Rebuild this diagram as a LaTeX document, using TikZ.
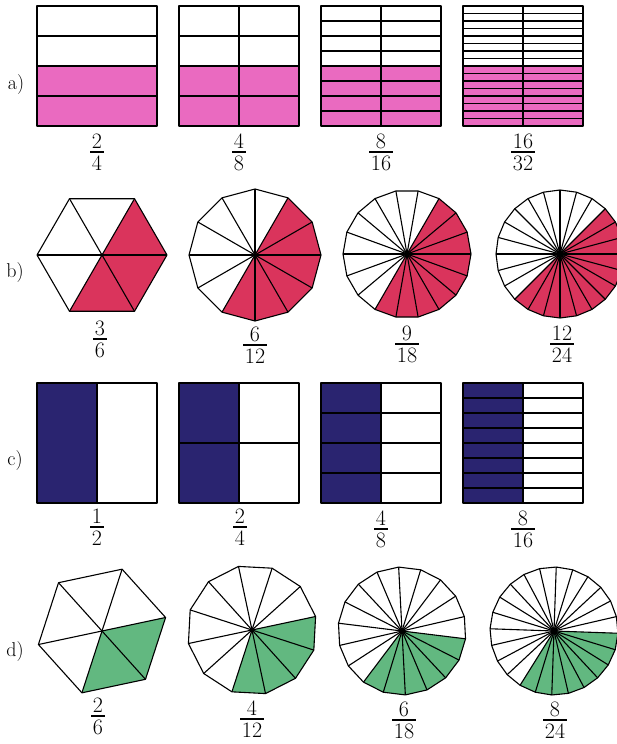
\documentclass[tikz,border=0pt]{standalone}
\usepackage{tikz}
\definecolor{pinkc}{RGB}{234,106,192}
\definecolor{redc}{RGB}{218,52,92}
\definecolor{navyc}{RGB}{42,36,112}
\definecolor{greenc}{RGB}{98,184,128}
\newcommand\gridbox[4]{% x y cols rows
  \draw[ln] (#1,#2) rectangle ++(120,120);
  \ifnum#3>1 \draw[ln] (#1+60,#2) -- ++(0,120);\fi
  \ifnum#4>1 \foreach \i in {2,...,#4}{\draw[ln] (#1,{#2+(\i-1)*120/#4}) -- ++(120,0);}\fi
}
\newcommand\pgon[8]{% name, (x,y), r, n, offset, fill start, count, colour
  \coordinate (#1) at #2;
  \fill[#8] (#1) \foreach \k [evaluate=\k as \aa using {-(#6+\k*360/#4)}] in {0,...,#7}{ -- ([shift={(#1)}]\aa:#3) } -- cycle;
  \foreach \k [evaluate=\k as \aa using {-(#5+\k*360/#4)}] in {1,...,#4}{\draw[ln] (#1) -- ([shift={(#1)}]\aa:#3);}
  \draw[ln] ([shift={(#1)}]-#5:#3) \foreach \k [evaluate=\k as \aa using {-(#5+\k*360/#4)}] in {1,...,#4}{ -- ([shift={(#1)}]\aa:#3)} -- cycle;
}
\newcommand\fr[5]{% name x ybar num den
  \node[dig,anchor=base] (#1n) at (#2,#3-4) {#4};
  \node[dig,anchor=north] (#1d) at (#2,#3+4) {#5};
  \draw[bar,shorten <=-1.5pt,shorten >=-1.5pt] (#1d.west |- #2,#3) -- (#1d.east |- #2,#3);
}
\begin{document}
\begin{tikzpicture}[x=1pt,y=-1pt,
  ln/.style={line width=1.1pt,black,line join=round},
  dig/.style={inner sep=0pt,font=\fontsize{22}{26}\selectfont},
  lab/.style={inner sep=0pt,font=\fontsize{20}{24}\selectfont},
  bar/.style={line width=1.3pt}]
\useasboundingbox (0,0) rectangle (617,744);
\clip (0,0) rectangle (617,744);
\fill[white] (0,0) rectangle (617,744);

% row a
\fill[pinkc] (37,66) rectangle (157,126);
\fill[pinkc] (179,66) rectangle (299,126);
\fill[pinkc] (321,66) rectangle (441,126);
\fill[pinkc] (463,66) rectangle (583,126);
\gridbox{37}{6}{1}{4}
\gridbox{179}{6}{2}{4}
\gridbox{321}{6}{2}{8}
\gridbox{463}{6}{2}{16}
\node[lab] (la) at (16,85) {a)};
\fr{fa1}{97}{152}{2}{4}
\fr{fa2}{239}{152}{4}{8}
\fr{fa3}{381}{152}{8}{16}
\fr{fa4}{523}{152}{16}{32}

% row b
\pgon{b1}{(102,255)}{65}{6}{0}{-120}{3}{redc}
\pgon{b2}{(255,255)}{66}{12}{0}{-120}{6}{redc}
\pgon{b3}{(407,254)}{64}{18}{0}{-120}{9}{redc}
\pgon{b4}{(560,254)}{64}{24}{0}{-135}{12}{redc}
\fill (b2) circle (2);
\fill (b3) circle (3);
\fill (b4) circle (3.5);
\node[lab] (lb) at (15,273) {b)};
\fr{fb1}{100}{339}{3}{6}
\fr{fb2}{255}{345}{6}{12}
\fr{fb3}{407}{344}{9}{18}
\fr{fb4}{562}{344}{12}{24}

% row c
\fill[navyc] (37,383) rectangle (97,503);
\fill[navyc] (179,383) rectangle (239,503);
\fill[navyc] (321,383) rectangle (381,503);
\fill[navyc] (463,383) rectangle (523,503);
\gridbox{37}{383}{2}{1}
\gridbox{179}{383}{2}{2}
\gridbox{321}{383}{2}{4}
\gridbox{463}{383}{2}{8}
\node[lab] (lc) at (15,461) {c)};
\fr{fc1}{97}{527}{1}{2}
\fr{fc2}{240}{527}{2}{4}
\fr{fc3}{381}{529}{4}{8}
\fr{fc4}{523}{529}{8}{16}

% row d
\pgon{d1}{(102,631)}{65}{6}{12}{-108}{2}{greenc}
\pgon{d2}{(252,630)}{65}{12}{12}{-108}{4}{greenc}
\pgon{d3}{(402,631)}{64}{18}{13}{-127}{6}{greenc}
\pgon{d4}{(554,631)}{64}{24}{13}{-122}{8}{greenc}
\fill (d2) circle (2);
\fill (d3) circle (3);
\fill (d4) circle (3.5);
\node[lab] (ld) at (15,652) {d)};
\fr{fd1}{98}{716}{2}{6}
\fr{fd2}{252}{719}{4}{12}
\fr{fd3}{404}{720}{6}{18}
\fr{fd4}{555}{720}{8}{24}
\end{tikzpicture}
\end{document}
